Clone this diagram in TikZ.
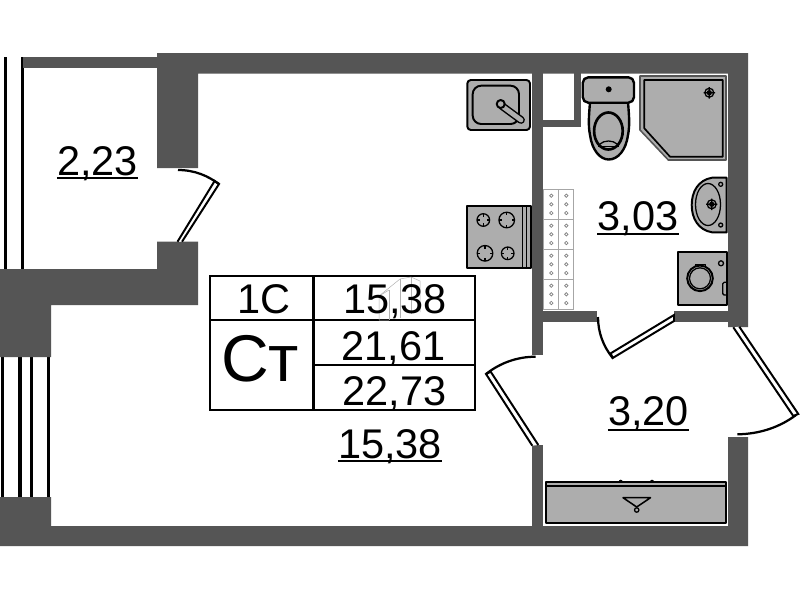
\documentclass[tikz,border=0pt]{standalone}
\usepackage{fontspec}
\usepackage{tikz}
\setmainfont{Liberation Sans}
\usetikzlibrary{calc}
\definecolor{wallgray}{HTML}{555555}
\definecolor{fixgray}{HTML}{ADADAD}

\begin{document}
\begin{tikzpicture}[
        x=0.025cm, y=-0.025cm,
        wall/.style={fill=wallgray, draw=none},
        fixture/.style={draw=black, fill=fixgray, line width=1.4pt, line join=round},
        fixthin/.style={draw=black, line width=0.9pt},
        leaf/.style={draw=black, fill=white, line width=1.4pt},
        swing/.style={draw=black, line width=1.6pt},
        rail/.style={fill=black, draw=none},
        tilecell/.style={draw=black!35, fill=white, line width=0.5pt},
        tilehole/.style={draw=black!50, fill=white, line width=0.5pt},
        tableline/.style={draw=black, line width=1.7pt},
        ghost/.style={draw=black!30, line width=0.35pt},
        figure/.style={font=\fontsize{29.5}{30}\selectfont, inner sep=0pt, anchor=base},
        bigfigure/.style={font=\fontsize{47}{48}\selectfont, inner sep=0pt, anchor=base},
        underbar/.style={draw=black, line width=1.4pt}
    ]
    \useasboundingbox (0,0) rectangle (800,600);
    \fill[white] (0,0) rectangle (800,600);

    % Balcony rails
    \fill[rail] (4,57) rectangle (7.3,269);
    \fill[rail] (21,57) rectangle (24.3,269);
    \fill[rail] (1,357) rectangle (4.3,497);
    \fill[rail] (17.7,357) rectangle (21.7,497);
    \fill[rail] (30,357) rectangle (33.3,497);
    \fill[rail] (46.7,357) rectangle (50,497);

    % Walls
    \fill[wall] (23,57) rectangle (158,68);
    \fill[wall] (157,53) -- (748,53) -- (748,327) -- (728,327) -- (728,73.5) -- (198,73.5) -- (198,168) -- (157,168) -- cycle;
    \fill[wall] (157,241.7) -- (198,241.7) -- (198,305) -- (51,305) -- (51,357) -- (0,357) -- (0,269) -- (157,269) -- cycle;
    \fill[wall] (0,497) -- (51,497) -- (51,526) -- (728,526) -- (728,437) -- (748,437) -- (748,546) -- (0,546) -- cycle;
    \fill[wall] (531.7,73) rectangle (542.7,355);
    \fill[wall] (531.7,445) rectangle (542.7,527);
    \fill[wall] (574,73) rectangle (581,127);
    \fill[wall] (542,120) rectangle (581,127);
    \fill[wall] (542,311) rectangle (597,322);
    \fill[wall] (674,311) rectangle (728,322);

    % Doors
    \draw[leaf] (177.5,241.7) -- (214.6,181) -- (219,184) -- (182,241.7);
    \draw[swing] (178,170) .. controls (195,170) and (208,176) .. (219,184);
    \draw[leaf] (612.7,358) -- (610.7,353.3) -- (674,315) -- (674,321) -- cycle;
    \draw[swing] (598,317) .. controls (598,332) and (603,346) .. (612.7,358);
    \draw[leaf] (532.3,445.7) -- (486,374) -- (490.7,371.7) -- (538.3,445);
    \draw[swing] (535.7,356.7) .. controls (517,356.7) and (500,363) .. (486,374);
    \draw[leaf] (733.3,327.3) -- (793.3,416) -- (798.3,414) -- (739.3,326.7);
    \draw[swing] (796,415) .. controls (780,427) and (760,434) .. (737.3,434.3);

    % Kitchen sink
    \draw[fixture, rounded corners=2.5] (467.3,80) rectangle (530,130);
    \draw[fixture, rounded corners=6] (472.7,85.7) rectangle (519,124);
    \draw[draw=black, line width=5.5pt, line cap=round] (502,106) -- (521,120);
    \draw[draw=fixgray, line width=3.4pt, line cap=round] (502,106) -- (521,120);
    \draw[fixture] (500.7,104) circle (4);

    % Stove
    \draw[fixture] (467.3,205.7) rectangle (530.7,267.7);
    \draw[fixthin] (522.7,205.7) -- (522.7,267.7) (526.7,205.7) -- (526.7,267.7);
    \foreach \bx/\by/\br in {483.3/220/6.3, 506.7/220/7.8, 485/253.3/7.8, 507.7/253.3/6.3} {
        \draw[fixthin] (\bx,\by) circle (\br);
        \draw[fixthin] (\bx-\br,\by) -- +(3,0) (\bx+\br,\by) -- +(-3,0) (\bx,\by-\br) -- +(0,3) (\bx,\by+\br) -- +(0,-3);
    }

    % Toilet
    \draw[fixture, line width=1.7pt] (590,102) .. controls (589,115) and (588,125) .. (590,135) .. controls (592,150) and (600,159.5) .. (608.7,159.5) .. controls (618,159.5) and (626,150) .. (628,135) .. controls (630,125) and (629,115) .. (628,102) -- cycle;
    \draw[fixture, line width=1.7pt, rounded corners=4] (582.7,77.3) rectangle (634,102.7);
    \fill[black] (608.7,89.3) circle (3);
    \draw[fixture, line width=1.9pt] (608.4,131) ellipse (14.3 and 18.5);
    \draw[fixthin] (600,144) .. controls (604,140) and (613,140) .. (617,144);
    \draw[fixthin] (598,146.5) -- (619,146.5);

    % Shower
    \draw[fixture, draw=wallgray, line width=1.1pt] (640,76) -- (726,76) -- (726,160) -- (668.3,160) -- (640,130) -- cycle;
    \draw[fixture, line width=1.2pt] (644.3,80) -- (722.7,80) -- (722.7,156.7) -- (670,156.7) -- (644.3,128.3) -- cycle;
    \draw[fixthin] (709.3,92.7) circle (4.5) circle (2) (703.5,92.7) -- (715,92.7) (709.3,87) -- (709.3,98.5);

    % Basin
    \draw[fixture] (726.7,177.7) -- (712,177.7) .. controls (698,180) and (691.7,192) .. (691.7,205) .. controls (691.7,218) and (698,230) .. (712,232.3) -- (726.7,232.3) -- cycle;
    \draw[fixthin] (708,204.5) ellipse (12.5 and 21);
    \draw[fixthin] (720.7,184.3) circle (2) (720.7,225) circle (2);
    \draw[fixthin] (711.7,204.3) circle (4.5) circle (2) (706,204.3) -- (717.4,204.3) (711.7,198.6) -- (711.7,210);

    % Washer
    \draw[fixture] (677.7,252) rectangle (726.7,305);
    \draw[fixture] (695.5,264.5) rectangle (705.5,270);
    \draw[fixture] (700,278.3) circle (12.8);
    \draw[fixthin] (700,278.3) circle (10.5);
    \draw[fixthin] (721,263.3) circle (2.5);
    \draw[fixthin, rounded corners=1] (726.7,282.3) -- (722.7,282.3) -- (722.7,295) -- (726.7,295);

    % Tile panel
    \foreach \ty in {189.3, 219.3, 249.3, 279.3} {
        \draw[tilecell] (543.3,\ty) rectangle (558.3,\ty+30);
        \draw[tilecell] (558.3,\ty) rectangle (573.3,\ty+30);
        \foreach \tx in {551.3, 566.3} \foreach \dy in {6.4, 15, 23.7}
            \draw[tilehole] (\tx,\ty+\dy) circle (1.7);
    }

    % Wardrobe
    \fill[black] (620.7,481.7) circle (2) (652,481.7) circle (2);
    \draw[fixture] (546,481.7) rectangle (725.7,522.7);
    \draw[fixthin] (546,486) -- (725.7,486);
    \draw[draw=black, line width=1.1pt, line join=round, line cap=round] (623,497.7) -- (650.5,497.7) -- (636.7,507) -- cycle;
    \draw[fixthin] (636.7,510) circle (2.2);

    % Summary table
    \draw[tableline] (210,275.7) rectangle (475,410);
    \draw[tableline] (313.3,275.7) -- (313.3,410);
    \draw[tableline] (210,320) -- (475,320);
    \draw[tableline] (313.3,365) -- (475,365);

    % Stray outline behind the figures
    \draw[ghost] (379,320) -- (379,296) -- (400,279) -- (411,277) -- (420,281) -- (420,312);
    \draw[ghost] (400,279) -- (400,318) (411,277) -- (411,314) (389,290) -- (389,320);
    \draw[ghost] (379,320) -- (389,320) (379,296) -- (389,290);

    % Texts
    \node[figure] (rooms) at (264,313) {1C};
    \node[bigfigure] (kind) at (260,381) {Ст};
    \node[figure] (living) at (395,313) {15,38};
    \node[figure] (total) at (393.5,360) {21,61};
    \node[figure] (full) at (394.5,405) {22,73};
    \node[figure] (balcony) at (97.5,175) {2,23};
    \node[figure] (bath) at (638,230) {3,03};
    \node[figure] (hall) at (648.5,425.5) {3,20};
    \node[figure] (room) at (390,458) {15,38};

    % Underlines
    \draw[underbar] ($(balcony.base west)+(0,3.4)$) -- ($(balcony.base east)+(0,3.4)$);
    \draw[underbar] ($(bath.base west)+(0,4.3)$) -- ($(bath.base east)+(0,4.3)$);
    \draw[underbar] ($(hall.base west)+(0,4.5)$) -- ($(hall.base east)+(0,4.5)$);
    \draw[underbar] ($(room.base west)+(0,3.2)$) -- ($(room.base east)+(0,3.2)$);
\end{tikzpicture}
\end{document}
